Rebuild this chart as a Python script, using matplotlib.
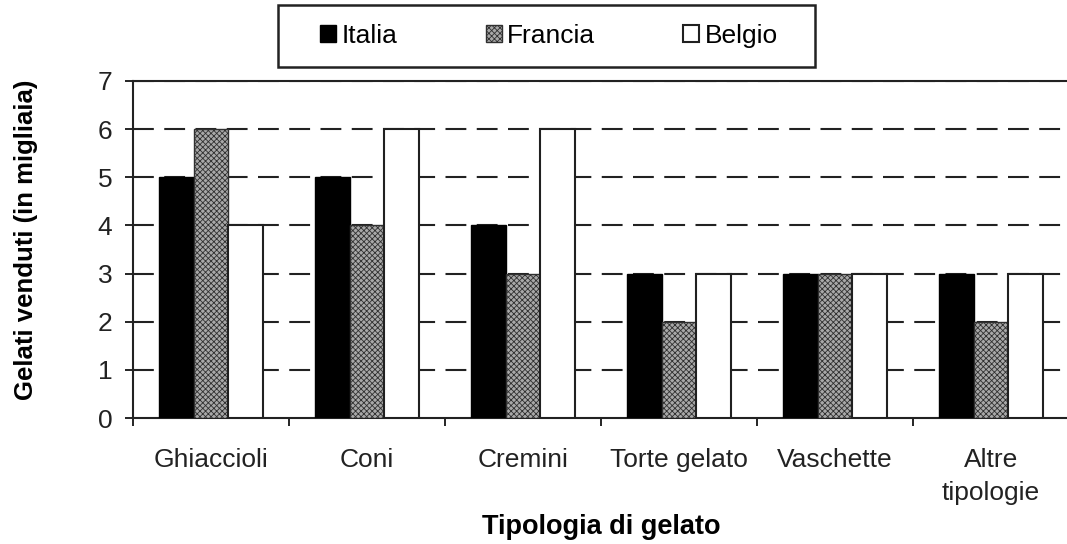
import matplotlib
matplotlib.use("Agg")
import matplotlib.pyplot as plt
from matplotlib.patches import Rectangle
import numpy as np

categories = ["Ghiaccioli", "Coni", "Cremini", "Torte gelato", "Vaschette", "Altre\ntipologie"]
series_names = ["Italia", "Francia", "Belgio"]
italia = [5, 5, 4, 3, 3, 3]
francia = [6, 4, 3, 2, 3, 2]
belgio = [4, 6, 6, 3, 3, 3]
y_ticks = [0, 1, 2, 3, 4, 5, 6, 7]

plt.rcParams['font.family'] = ['Liberation Sans', 'DejaVu Sans']
plt.rcParams['hatch.linewidth'] = 0.6
plt.rcParams['hatch.color'] = '#606060'

W, H = 1067, 544
fig = plt.figure(figsize=(W/100, H/100), dpi=100)
ax = fig.add_axes([133/W, (H-418)/H, 936/W, (418-81)/H])

x = np.arange(len(categories))
w = 0.224
ax.bar(x - w, italia, w, color='black', edgecolor='black', linewidth=1, label=series_names[0], zorder=3)
ax.bar(x, francia, w, color='#a8a8a8', edgecolor='#303030', linewidth=1, hatch='xxxxxx', label=series_names[1], zorder=3)
ax.bar(x + w, belgio, w, color='white', edgecolor='#202020', linewidth=1.5, label=series_names[2], zorder=3)

ax.set_xlim(-0.5, len(categories) - 0.5)
ax.set_ylim(0, 7)
ax.set_yticks(y_ticks)
for yv in y_ticks[1:]:
    ax.axhline(yv, color='#222222', linewidth=1.5, linestyle=(0, (10, 5)), zorder=1)

ax.set_xticks(x)
ax.set_xticklabels(categories, fontsize=19, color='#222222', linespacing=1.5)
ax.set_xticks(np.arange(len(categories) + 1) - 0.5, minor=True)
ax.tick_params(axis='x', which='major', length=0, pad=21.5)
ax.tick_params(axis='x', which='minor', length=6, width=1.2, direction='out')
ax.tick_params(axis='y', length=6, width=1.2, direction='out', labelsize=19, pad=9, labelcolor='#222222')

for s in ['left', 'bottom', 'top']:
    ax.spines[s].set_linewidth(1.5)
    ax.spines[s].set_color('#222222')
ax.spines['right'].set_visible(False)

ax.set_ylabel("Gelati venduti (in migliaia)", fontsize=18.5, fontweight='bold', labelpad=43)
ax.yaxis.label.set_y(0.53)
ax.set_xlabel("Tipologia di gelato", fontsize=19.5, fontweight='bold', labelpad=6)

leg = fig.legend(loc='center', bbox_to_anchor=(549/W, 1 - 36/H), ncol=3,
                 fontsize=19, frameon=False,
                 handlelength=0.6, handleheight=0.6, handletextpad=0.2,
                 columnspacing=3.35, borderpad=0.3, borderaxespad=0)
fig.patches.append(Rectangle((278/W, (H-67)/H), 537/W, 62/H, transform=fig.transFigure,
                             fill=False, edgecolor='#222222', linewidth=1.8))

fig.savefig("out.png", dpi=100)
